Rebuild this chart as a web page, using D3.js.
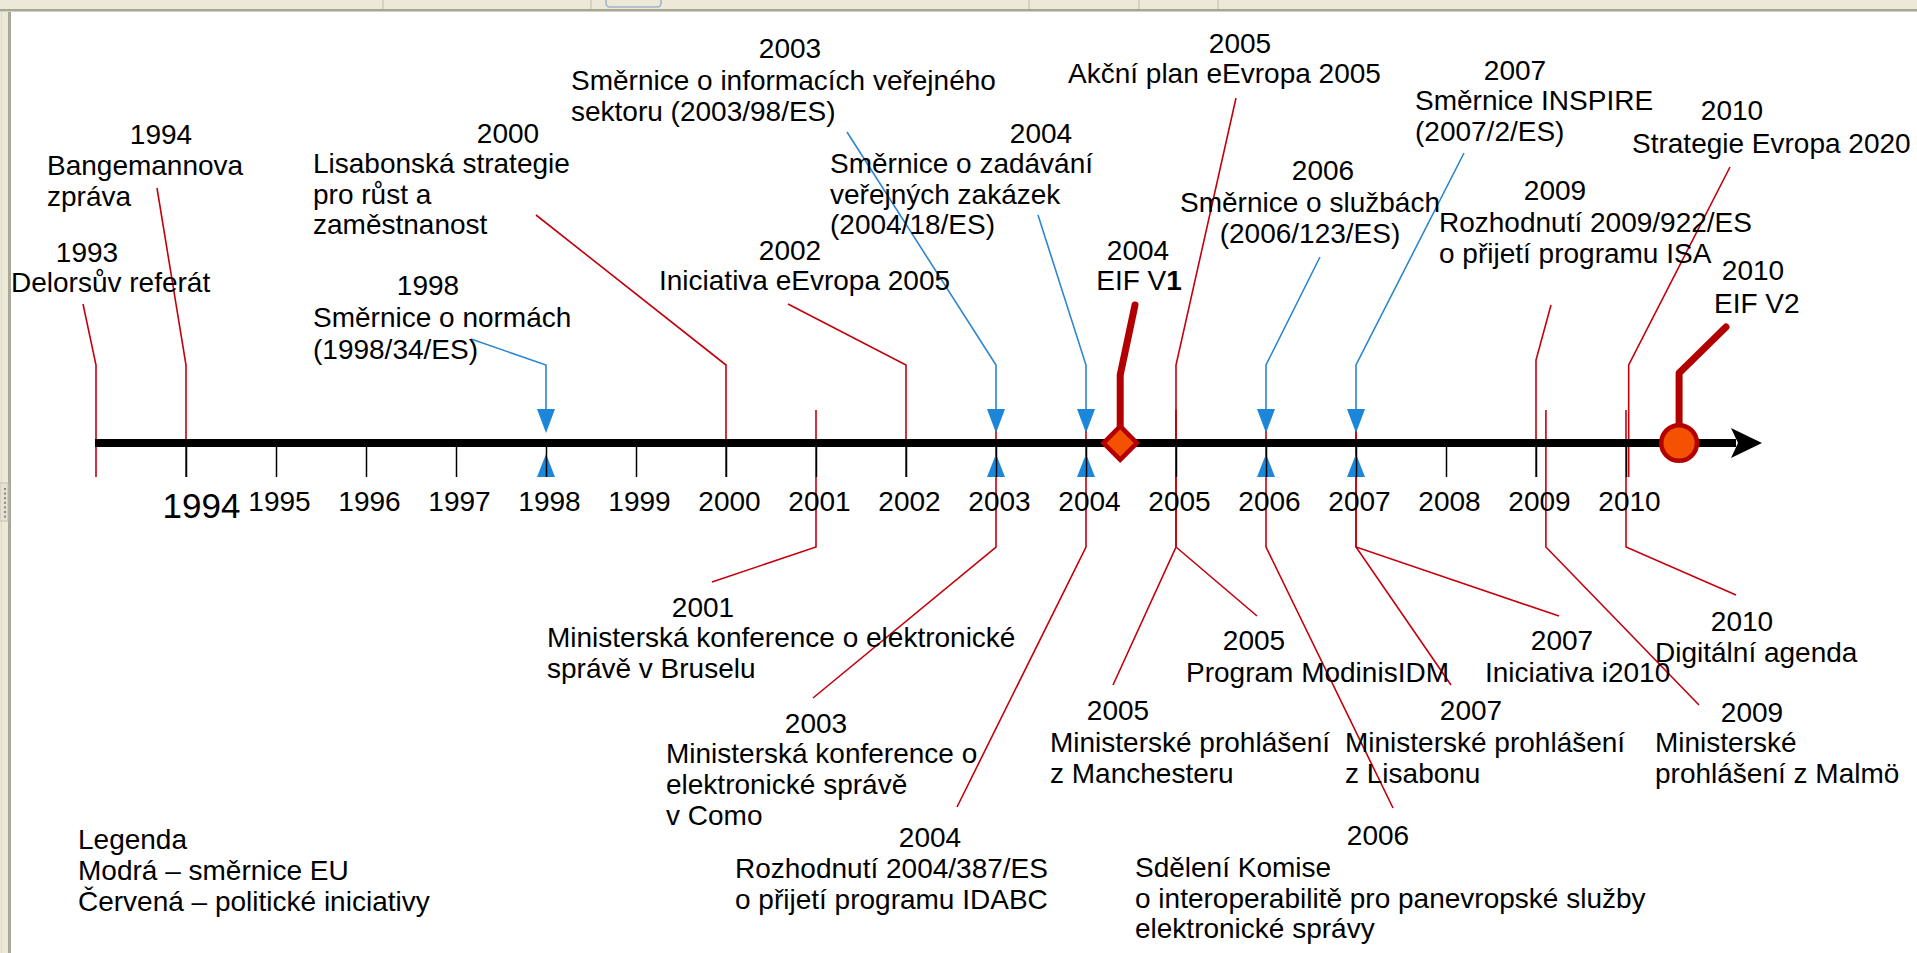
<!DOCTYPE html>
<html>
<head>
<meta charset="utf-8">
<script src="https://cdn.jsdelivr.net/npm/d3@7"></script>
<style>
  body { margin: 0; background: #fff; overflow: hidden; }
  svg text { font-family: "Liberation Sans", Arial, sans-serif; font-size: 28px; fill: #000; }
</style>
</head>
<body>
<div id="chart"></div>
<script>
// ---- data ----
var tickYears = d3.range(1994, 2011);

// blue: EU directives (above the axis)
var directives = [
    {id: "normy",   date: 1998, year: "1998", text: ["Směrnice o normách", "(1998/34/ES)"]},
    {id: "psi",     date: 2003, year: "2003", text: ["Směrnice o informacích veřejného", "sektoru (2003/98/ES)"]},
    {id: "zakazky", date: 2004, year: "2004", text: ["Směrnice o zadávání", "veřejných zakázek", "(2004/18/ES)"]},
    {id: "sluzby",  date: 2006, year: "2006", text: ["Směrnice o službách", "(2006/123/ES)"]},
    {id: "inspire", date: 2007, year: "2007", text: ["Směrnice INSPIRE", "(2007/2/ES)"]}
];

// red: political initiatives above the axis
var initiativesAbove = [
    {id: "delors",     date: 1993,    year: "1993", text: ["Delorsův referát"]},
    {id: "bangemann",  date: 1994,    year: "1994", text: ["Bangemannova", "zpráva"]},
    {id: "lisabon",    date: 2000,    year: "2000", text: ["Lisabonská strategie", "pro růst a", "zaměstnanost"]},
    {id: "eevropa",    date: 2002,    year: "2002", text: ["Iniciativa eEvropa 2005"]},
    {id: "akcni",      date: 2005,    year: "2005", text: ["Akční plan eEvropa 2005"]},
    {id: "isa",        date: 2009,    year: "2009", text: ["Rozhodnutí 2009/922/ES", "o přijetí programu ISA"]},
    {id: "evropa2020", date: 2010.03, year: "2010", text: ["Strategie Evropa 2020"]}
];

// red: political initiatives below the axis
var initiativesBelow = [
    {id: "brusel",     date: 2001,    year: "2001", text: ["Ministerská konference o elektronické", "správě v Bruselu"]},
    {id: "como",       date: 2003,    year: "2003", text: ["Ministerská konference o", "elektronické správě", "v Como"]},
    {id: "idabc",      date: 2004,    year: "2004", text: ["Rozhodnutí 2004/387/ES", "o přijetí programu IDABC"]},
    {id: "modinis",    date: 2005,    year: "2005", text: ["Program ModinisIDM"]},
    {id: "manchester", date: 2005,    year: "2005", text: ["Ministerské prohlášení", "z Manchesteru"]},
    {id: "sdeleni",    date: 2006,    year: "2006", text: ["Sdělení Komise", "o interoperabilitě pro panevropské služby", "elektronické správy"]},
    {id: "i2010",      date: 2007,    year: "2007", text: ["Iniciativa i2010"]},
    {id: "lisabon07",  date: 2007,    year: "2007", text: ["Ministerské prohlášení", "z Lisabonu"]},
    {id: "malmo",      date: 2009.11, year: "2009", text: ["Ministerské", "prohlášení z Malmö"]},
    {id: "digital",    date: 2010,    year: "2010", text: ["Digitální agenda"]}
];

// EIF versions (thick markers)
var eifVersions = [
    {id: "eif1", date: 2004.38, year: "2004", text: ["EIF V1"], shape: "diamond"},
    {id: "eif2", date: 2010.59, year: "2010", text: ["EIF V2"], shape: "circle"}
];

var legendLines = ["Legenda", "Modrá – směrnice EU", "Červená – politické iniciativy"];

// ---- label placement (pixels) ----
// yx/yy: year line, tx/ty: text lines, ex/ey: where the leader line ends
var layout = {
    delors:     {yx: 87,   yy: 262, tx: 11,   ty: 292, ex: 83,   ey: 304},
    bangemann:  {yx: 161,  yy: 144, tx: 47,   ty: 175, ex: 157,  ey: 188},
    lisabon:    {yx: 508,  yy: 143, tx: 313,  ty: 173, ex: 536,  ey: 215},
    eevropa:    {yx: 790,  yy: 260, tx: 659,  ty: 290, ex: 788,  ey: 304},
    akcni:      {yx: 1240, yy: 53,  tx: 1068, ty: 83,  ex: 1236, ey: 98},
    isa:        {yx: 1555, yy: 200, tx: 1439, ty: 232, ex: 1551, ey: 305, elbow: 360},
    evropa2020: {yx: 1732, yy: 120, tx: 1632, ty: 153, ex: 1730, ey: 167},

    normy:   {yx: 428,  yy: 295, tx: 313,  ty: 327, ex: 471,  ey: 339, lh: 32},
    psi:     {yx: 790,  yy: 58,  tx: 571,  ty: 90,  ex: 847,  ey: 132},
    zakazky: {yx: 1041, yy: 143, tx: 830,  ty: 173, ex: 1038, ey: 215},
    sluzby:  {yx: 1323, yy: 180, tx: 1310, ty: 212, ex: 1320, ey: 257, anchor: "middle"},
    inspire: {yx: 1515, yy: 80,  tx: 1415, ty: 110, ex: 1464, ey: 153},

    brusel:     {yx: 703,  yy: 617, tx: 547,  ty: 647, ex: 712,  ey: 582},
    como:       {yx: 816,  yy: 733, tx: 666,  ty: 763, ex: 813,  ey: 698, lh: 31},
    idabc:      {yx: 930,  yy: 847, tx: 735,  ty: 878, ex: 957,  ey: 807, lh: 31},
    modinis:    {yx: 1254, yy: 650, tx: 1186, ty: 682, ex: 1257, ey: 616},
    manchester: {yx: 1118, yy: 720, tx: 1050, ty: 752, ex: 1113, ey: 685},
    sdeleni:    {yx: 1378, yy: 845, tx: 1135, ty: 877, ex: 1393, ey: 808},
    i2010:      {yx: 1562, yy: 650, tx: 1485, ty: 682, ex: 1559, ey: 616},
    lisabon07:  {yx: 1471, yy: 720, tx: 1345, ty: 752, ex: 1451, ey: 685},
    malmo:      {yx: 1752, yy: 722, tx: 1655, ty: 752, ex: 1699, ey: 705},
    digital:    {yx: 1742, yy: 631, tx: 1655, ty: 662, ex: 1736, ey: 595},

    eif1: {yx: 1138, yy: 260, tx: 1139, ty: 290, ex: 1135, ey: 305, knee: 375, anchor: "middle"},
    eif2: {yx: 1753, yy: 280, tx: 1714, ty: 313, ex: 1726, ey: 327, knee: 373}
};

var svgWidth = window.innerWidth;
var svgHeight = window.innerHeight;

var axisY = 443;
var elbowTop = 365;
var elbowBottom = 547;
var tickLen = 34;
var lineH = 30.5;

var red = "#c4000c";
var blue = "#2e86d0";
var triBlue = "#1c86da";

var svg = d3.select("#chart")
    .append("svg")
    .attr("width", svgWidth)
    .attr("height", svgHeight);

// window chrome (screenshot frame)
var chrome = svg.append("g");
chrome.append("rect").attr("x", 0).attr("y", 0).attr("width", svgWidth).attr("height", 9).attr("fill", "#ece9d8");
chrome.append("rect").attr("x", 0).attr("y", 9).attr("width", svgWidth).attr("height", 2).attr("fill", "#a8a595");
chrome.append("rect").attr("x", 0).attr("y", 11).attr("width", svgWidth).attr("height", 1).attr("fill", "#d4d0c3");
[383, 591, 1029, 1139, 1218].forEach(function(sx) {
    chrome.append("line").attr("x1", sx).attr("x2", sx).attr("y1", 0).attr("y2", 9)
        .attr("stroke", "#bfbcae").attr("stroke-width", 1);
});
chrome.append("path").attr("d", "M606,-2 V3 Q606,7 610,7 H657 Q661,7 661,3 V-2")
    .attr("fill", "none").attr("stroke", "#9fb2cf").attr("stroke-width", 1.5);
chrome.append("rect").attr("x", 0).attr("y", 12).attr("width", 9).attr("height", svgHeight).attr("fill", "#ece9d8");
chrome.append("rect").attr("x", 8).attr("y", 12).attr("width", 3).attr("height", svgHeight).attr("fill", "#aca899");
chrome.append("line").attr("x1", 1.5).attr("x2", 1.5).attr("y1", 12).attr("y2", svgHeight).attr("stroke", "#dcd9cb");
chrome.append("rect").attr("x", 0).attr("y", 483).attr("width", 8).attr("height", 38)
    .attr("fill", "#e4e1d3").attr("stroke", "#c3c0b2");
d3.range(0, 7).forEach(function(i) {
    chrome.append("rect").attr("x", 4).attr("y", 488 + i * 4.6).attr("width", 2).attr("height", 2).attr("fill", "#8d8a7d");
});

var x = d3.scaleLinear().domain([1994, 2010]).range([186, 1626]);
var axisStart = x(1993) - 1;
var axisEnd = 1762;

var marks = svg.append("g");

// stems of the initiatives below the axis
marks.selectAll(".stem-below")
    .data(initiativesBelow)
    .enter()
    .append("path")
    .attr("d", function(d) {
        var L = layout[d.id];
        return "M" + x(d.date) + "," + 410 + " V" + elbowBottom + " L" + L.ex + "," + L.ey;
    })
    .attr("fill", "none")
    .attr("stroke", red)
    .attr("stroke-width", 1.6);

// stems of the initiatives above the axis
marks.selectAll(".stem-above")
    .data(initiativesAbove)
    .enter()
    .append("path")
    .attr("d", function(d) {
        var L = layout[d.id];
        var e = L.elbow || elbowTop;
        return "M" + x(d.date) + "," + (axisY + tickLen) + " V" + e + " L" + L.ex + "," + L.ey;
    })
    .attr("fill", "none")
    .attr("stroke", red)
    .attr("stroke-width", 1.6);

// directives: blue leader + triangles
marks.selectAll(".stem-dir")
    .data(directives)
    .enter()
    .append("path")
    .attr("d", function(d) {
        var L = layout[d.id];
        return "M" + L.ex + "," + L.ey + " L" + x(d.date) + "," + elbowTop + " V" + 412;
    })
    .attr("fill", "none")
    .attr("stroke", blue)
    .attr("stroke-width", 1.6);

marks.selectAll(".tri-down")
    .data(directives)
    .enter()
    .append("path")
    .attr("d", function(d) {
        var cx = x(d.date);
        return "M" + (cx - 9) + ",409 L" + (cx + 9) + ",409 L" + cx + ",433 Z";
    })
    .attr("fill", triBlue);

marks.selectAll(".tri-up")
    .data(directives)
    .enter()
    .append("path")
    .attr("d", function(d) {
        var cx = x(d.date);
        return "M" + (cx - 9) + ",477 L" + (cx + 9) + ",477 L" + cx + ",454 Z";
    })
    .attr("fill", triBlue);

// year ticks
var xAxis = svg.append("g")
    .attr("transform", `translate(0, ${axisY})`)
    .attr("font-size", null)
    .attr("font-family", null)
    .call(d3.axisBottom(x).tickValues(tickYears).tickSize(tickLen).tickFormat(d3.format("d")));
xAxis.select(".domain").remove();
xAxis.selectAll(".tick line").attr("stroke", "#000").attr("stroke-width", 1.5);
xAxis.selectAll(".tick text")
    .attr("dy", null)
    .attr("y", 68)
    .attr("dx", 3)
    .filter(function(d) { return d === 1994; })
    .attr("dx", 15)
    .attr("y", 75)
    .style("font-size", "35px");

// the main axis with arrow
svg.append("line")
    .attr("x1", axisStart).attr("x2", axisEnd - 26)
    .attr("y1", axisY).attr("y2", axisY)
    .attr("stroke", "#000").attr("stroke-width", 8);
svg.append("path")
    .attr("d", "M" + axisEnd + "," + axisY + " L" + (axisEnd - 31) + "," + (axisY - 15) +
        " L" + (axisEnd - 24) + "," + axisY + " L" + (axisEnd - 31) + "," + (axisY + 15) + " Z")
    .attr("fill", "#000");

// EIF milestones
var eif = svg.append("g");
eif.selectAll(".eif-stem")
    .data(eifVersions)
    .enter()
    .append("path")
    .attr("d", function(d) {
        var L = layout[d.id];
        return "M" + x(d.date) + "," + axisY + " V" + L.knee + " L" + L.ex + "," + L.ey;
    })
    .attr("fill", "none")
    .attr("stroke", "#b20000")
    .attr("stroke-width", 7)
    .attr("stroke-linecap", "round")
    .attr("stroke-linejoin", "round");

eif.selectAll(".eif-mark")
    .data(eifVersions)
    .enter()
    .append("path")
    .attr("transform", function(d) {
        return "translate(" + x(d.date) + "," + axisY + ")" + (d.shape === "diamond" ? " rotate(45)" : "");
    })
    .attr("d", function(d) {
        return d.shape === "diamond"
            ? d3.symbol().type(d3.symbolSquare).size(560)()
            : d3.symbol().type(d3.symbolCircle).size(1000)();
    })
    .attr("fill", "#f45200")
    .attr("stroke", "#b50000")
    .attr("stroke-width", 4.5);

// labels
var labels = svg.append("g");
function drawLabel(d) {
    var L = layout[d.id];
    var lh = L.lh || lineH;
    labels.append("text")
        .attr("x", L.yx)
        .attr("y", L.yy)
        .attr("text-anchor", "middle")
        .text(d.year);
    var t = labels.append("text")
        .attr("text-anchor", L.anchor || "start");
    d.text.forEach(function(line, i) {
        var span = t.append("tspan")
            .attr("x", L.tx)
            .attr("y", L.ty + i * lh);
        if (d.id === "eif1") {
            span.text(line.slice(0, -1));
            span.append("tspan").attr("font-weight", "bold").text(line.slice(-1));
        } else {
            span.text(line);
        }
    });
}
initiativesAbove.forEach(drawLabel);
directives.forEach(drawLabel);
initiativesBelow.forEach(drawLabel);
eifVersions.forEach(drawLabel);

// legend
svg.append("text")
    .selectAll("tspan")
    .data(legendLines)
    .enter()
    .append("tspan")
    .attr("x", 78)
    .attr("y", function(d, i) { return 849 + i * 31; })
    .text(function(d) { return d; });
</script>
</body>
</html>
